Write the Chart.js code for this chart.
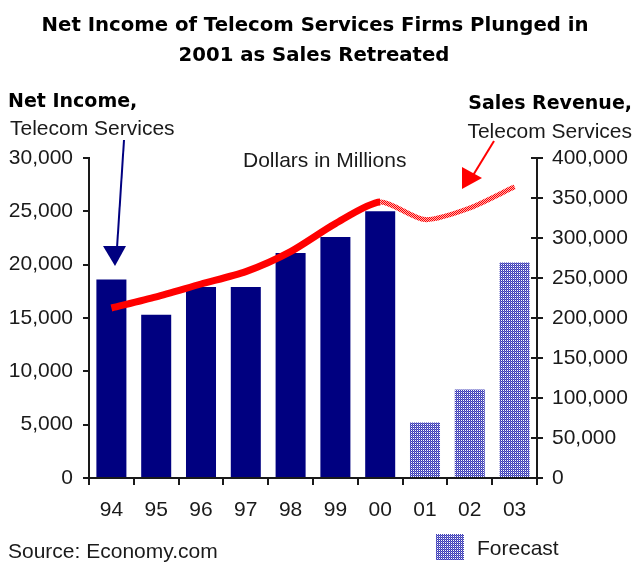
<!DOCTYPE html>
<html>
<head>
<meta charset="utf-8">
<script src="https://cdn.jsdelivr.net/npm/chart.js@4/dist/chart.umd.min.js"></script>
<style>
  html, body { margin: 0; padding: 0; background: #fff; }
  #wrap { width: 634px; height: 565px; position: relative; }
</style>
</head>
<body>
<div id="wrap"><canvas id="main-chart" width="634" height="565"></canvas></div>
<script>
// Data
const years       = ['94', '95', '96', '97', '98', '99', '00', '01', '02', '03'];
const netIncome   = [18600, 15300, 17900, 17900, 21100, 22600, 25000, 5200, 8300, 20200];
const salesRev    = [212500, 226500, 242500, 258000, 283000, 318000, 345000, 323000, 337500, 364000];
const firstForecast = 7;   // index of '01'
const titleLines  = ['Net Income of Telecom Services Firms Plunged in', '2001 as Sales Retreated'];

const navy = '#000080';
const tickFont = { family: 'Arial, "Liberation Sans", sans-serif', size: 21 };
const tc = '#1a1a1a';

// small checker patterns for forecast marks
function checker(a, b, c, d) {
  const cv = document.createElement('canvas');
  cv.width = 2; cv.height = 2;
  const g = cv.getContext('2d');
  g.fillStyle = a; g.fillRect(0, 0, 1, 1);
  g.fillStyle = b; g.fillRect(1, 0, 1, 1);
  g.fillStyle = c; g.fillRect(0, 1, 1, 1);
  g.fillStyle = d; g.fillRect(1, 1, 1, 1);
  return g.createPattern(cv, 'repeat');
}
const barHatch  = checker('#3c3cb4', '#ffffff', '#7070d0', '#3c3cb4');
const lineHatch = checker('#ff0000', '#ffb0b0', '#ffb0b0', '#ff0000');

const annotatePlugin = {
  id: 'annotate',
  afterDraw(ch) {
    const { ctx, scales } = ch;
    ctx.save();
    // inner half of right axis ticks
    ctx.strokeStyle = tc; ctx.lineWidth = 2;
    scales.y2.ticks.forEach(t => {
      const y = Math.round(scales.y2.getPixelForValue(t.value));
      ctx.beginPath(); ctx.moveTo(scales.y2.left - 6, y); ctx.lineTo(scales.y2.left, y); ctx.stroke();
    });

    ctx.fillStyle = '#000';
    ctx.textBaseline = 'alphabetic';
    ctx.font = 'bold 19.7px "DejaVu Sans", sans-serif';
    ctx.textAlign = 'center';
    ctx.fillText(titleLines[0], 315, 31);
    ctx.fillText(titleLines[1], 314, 61);
    ctx.font = 'bold 19px "DejaVu Sans", sans-serif';
    ctx.textAlign = 'left';
    ctx.fillText('Net Income,', 8, 107);
    ctx.textAlign = 'right';
    ctx.fillText('Sales Revenue,', 632, 109);

    ctx.font = '21px Arial, "Liberation Sans", sans-serif';
    ctx.fillStyle = tc;
    ctx.textAlign = 'left';
    ctx.fillText('Telecom Services', 10, 135);
    ctx.fillText('Dollars in Millions', 243, 167);
    ctx.fillText('Source: Economy.com', 8, 558);
    ctx.fillText('Forecast', 477, 555);
    ctx.textAlign = 'right';
    ctx.fillText('Telecom Services', 632, 138);

    // legend swatch
    ctx.fillStyle = barHatch;
    ctx.fillRect(436, 534, 28, 26);

    // blue arrow pointing at the 94 bar
    ctx.strokeStyle = navy; ctx.lineWidth = 2;
    ctx.beginPath(); ctx.moveTo(124, 140); ctx.lineTo(117, 248); ctx.stroke();
    ctx.fillStyle = navy;
    ctx.beginPath(); ctx.moveTo(103, 246); ctx.lineTo(126, 246); ctx.lineTo(115, 266); ctx.closePath(); ctx.fill();

    // red arrow pointing at the sales line
    ctx.strokeStyle = '#ff0000'; ctx.lineWidth = 2;
    ctx.beginPath(); ctx.moveTo(494, 141); ctx.lineTo(472, 177); ctx.stroke();
    ctx.fillStyle = '#ff0000';
    ctx.beginPath(); ctx.moveTo(462, 189); ctx.lineTo(462, 167); ctx.lineTo(482, 178); ctx.closePath(); ctx.fill();
    ctx.restore();
  }
};

new Chart(document.getElementById('main-chart'), {
  type: 'bar',
  data: {
    labels: years,
    datasets: [
      {
        type: 'line',
        label: 'Sales Revenue',
        data: salesRev,
        yAxisID: 'y2',
        borderColor: '#ff0000',
        borderWidth: 7,
        tension: 0.25,
        pointRadius: 0,
        segment: {
          borderColor: c => c.p0DataIndex >= firstForecast - 1 ? lineHatch : '#ff0000',
          borderWidth: c => c.p0DataIndex >= firstForecast - 1 ? 5 : 7,
        },
        order: 1,
      },
      {
        label: 'Net Income',
        data: netIncome,
        yAxisID: 'y',
        backgroundColor: netIncome.map((_, i) => i >= firstForecast ? barHatch : navy),
        borderWidth: 0,
        barPercentage: 0.67,
        categoryPercentage: 1,
        order: 2,
      }
    ]
  },
  options: {
    responsive: false,
    animation: false,
    layout: { padding: { top: 158, left: 0, right: 0, bottom: 0 } },
    plugins: { legend: { display: false }, title: { display: false }, tooltip: { enabled: false } },
    scales: {
      x: {
        grid: { display: true, drawOnChartArea: false, drawTicks: true, tickLength: 7, color: tc, lineWidth: 2, offset: true },
        border: { color: tc, width: 2 },
        ticks: { color: tc, font: tickFont, padding: 13, maxRotation: 0 },
        afterFit: s => { s.height = 87; },
      },
      y: {
        position: 'left',
        min: 0, max: 30000,
        grid: { drawOnChartArea: false, tickLength: 6, color: tc, lineWidth: 2 },
        border: { color: tc, width: 2 },
        ticks: { stepSize: 5000, color: tc, font: tickFont, padding: 10 },
        afterFit: s => { s.width = 89; },
      },
      y2: {
        position: 'right',
        min: 0, max: 400000,
        grid: { drawOnChartArea: false, tickLength: 6, color: tc, lineWidth: 2 },
        border: { color: tc, width: 2 },
        ticks: { stepSize: 50000, color: tc, font: tickFont, padding: 9 },
        afterFit: s => { s.width = 97; },
      }
    }
  },
  plugins: [annotatePlugin]
});
</script>
</body>
</html>
